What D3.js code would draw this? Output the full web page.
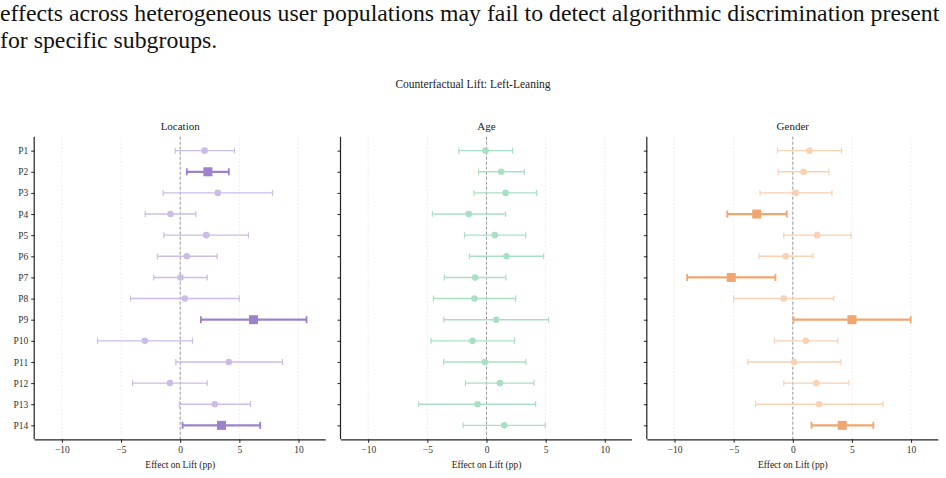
<!DOCTYPE html>
<html>
<head>
<meta charset="utf-8">
<script src="https://cdn.jsdelivr.net/npm/d3@7"></script>
<style>
  body { margin: 0; background: #fff; }
  svg { display: block; }
  svg text { font-family: "Liberation Serif", "DejaVu Serif", serif; }
</style>
</head>
<body>
<div id="container"></div>
<script>
/* DATA */
const participants = ["P1","P2","P3","P4","P5","P6","P7","P8","P9","P10","P11","P12","P13","P14"];
const panels = ["Location", "Age", "Gender"];
const xTicks = [-10, -5, 0, 5, 10];

// point estimates, lower and upper CI, per panel
const locationEst = [2.06, 2.34, 3.18, -0.82, 2.2, 0.56, 0.03, 0.39, 6.2, -2.99, 4.11, -0.87, 2.93, 3.49];
const locationLo  = [-0.42, 0.56, -1.44, -2.96, -1.38, -1.94, -2.23, -4.2, 1.75, -6.99, -0.37, -4.03, -0.08, 0.2];
const locationHi  = [4.59, 4.11, 7.8, 1.32, 5.77, 3.13, 2.28, 4.99, 10.68, 1.04, 8.65, 2.28, 5.94, 6.76];
const locationSig = [0,1,0,0,0,0,0,0,1,0,0,0,0,1];

const ageEst = [-0.08, 1.24, 1.61, -1.5, 0.71, 1.69, -0.96, -1.02, 0.82, -1.19, -0.14, 1.13, -0.76, 1.5];
const ageLo  = [-2.34, -0.68, -1.05, -4.58, -1.86, -1.44, -3.56, -4.49, -3.62, -4.69, -3.62, -1.78, -5.73, -1.98];
const ageHi  = [2.2, 3.19, 4.24, 1.61, 3.31, 4.83, 1.64, 2.46, 5.25, 2.37, 3.33, 4.01, 4.15, 4.97];
const ageSig = [0,0,0,0,0,0,0,0,0,0,0,0,0,0];

const genderEst = [1.41, 0.9, 0.25, -3.05, 2.06, -0.59, -5.2, -0.76, 5.0, 1.1, 0.11, 1.98, 2.23, 4.18];
const genderLo  = [-1.3, -1.24, -2.77, -5.54, -0.76, -2.85, -8.93, -5.0, 0.06, -1.55, -3.81, -0.76, -3.14, 1.58];
const genderHi  = [4.12, 3.05, 3.31, -0.51, 4.92, 1.69, -1.47, 3.47, 9.97, 3.81, 4.07, 4.75, 7.63, 6.81];
const genderSig = [0,0,0,1,0,0,1,0,1,0,0,0,0,1];

const seriesData = [
  { est: locationEst, lo: locationLo, hi: locationHi, sig: locationSig },
  { est: ageEst, lo: ageLo, hi: ageHi, sig: ageSig },
  { est: genderEst, lo: genderLo, hi: genderHi, sig: genderSig }
];

/* CONSTANTS */
const width = 946, height = 478;
const strong = ["#9b82cb", "#7fcfa2", "#f2a66f"];
const light  = ["#cbbde6", "#a9e0c3", "#f9d1b3"];
const panelX = [34.7, 341, 647.3], panelW = 291;
const plotTop = 136.7, plotBottom = 439.3;
const serif = "'Liberation Serif', 'DejaVu Serif', serif";

const svg = d3.select("#container").append("svg")
  .attr("width", width).attr("height", height)
  .attr("font-family", serif);

// intro text, sized to fill the line
const line1 = svg.append("text").attr("x", 0).attr("y", 21)
  .attr("font-size", 20).attr("fill", "#111")
  .style("font-family", serif)
  .text("effects across heterogeneous user populations may fail to detect algorithmic discrimination present");
const fs = 20 * 940 / line1.node().getComputedTextLength();
line1.attr("font-size", fs);
svg.append("text").attr("x", 0).attr("y", 48)
  .attr("font-size", fs).attr("fill", "#111")
  .style("font-family", serif)
  .text("for specific subgroups.");

svg.append("text").attr("x", 473).attr("y", 88)
  .attr("text-anchor", "middle").attr("font-size", 11.5).attr("fill", "#222")
  .text("Counterfactual Lift: Left-Leaning");

const yScale = d3.scalePoint()
  .domain(participants)
  .range([plotTop, plotBottom])
  .padding(0.66);

panels.forEach((name, k) => {
  const d = seriesData[k];
  const x0 = panelX[k];
  const xScale = d3.scaleLinear().domain([-12.3, 12.3]).range([x0, x0 + panelW]);
  const g = svg.append("g");

  // grid
  g.selectAll(".grid").data(xTicks).join("line")
    .attr("x1", v => xScale(v)).attr("x2", v => xScale(v))
    .attr("y1", plotTop).attr("y2", plotBottom)
    .attr("stroke", "#e4e4e4").attr("stroke-width", 0.8)
    .attr("stroke-dasharray", "1.5,2");

  // zero line
  g.append("line")
    .attr("x1", xScale(0)).attr("x2", xScale(0))
    .attr("y1", plotTop).attr("y2", plotBottom)
    .attr("stroke", "#999").attr("stroke-width", 1)
    .attr("stroke-dasharray", "3,2");

  const rows = participants.map((p, i) => ({ p, est: d.est[i], lo: d.lo[i], hi: d.hi[i], sig: d.sig[i] }));

  const row = g.selectAll(".row").data(rows).join("g");
  row.append("line")
    .attr("x1", r => xScale(r.lo)).attr("x2", r => xScale(r.hi))
    .attr("y1", r => yScale(r.p)).attr("y2", r => yScale(r.p))
    .attr("stroke", r => r.sig ? strong[k] : light[k])
    .attr("stroke-width", r => r.sig ? 2.2 : 1.4);
  ["lo", "hi"].forEach(end => {
    row.append("line")
      .attr("x1", r => xScale(r[end])).attr("x2", r => xScale(r[end]))
      .attr("y1", r => yScale(r.p) - (r.sig ? 3.5 : 3))
      .attr("y2", r => yScale(r.p) + (r.sig ? 3.5 : 3))
      .attr("stroke", r => r.sig ? strong[k] : light[k])
      .attr("stroke-width", r => r.sig ? 1.8 : 1.2);
  });
  row.filter(r => !r.sig).append("circle")
    .attr("cx", r => xScale(r.est)).attr("cy", r => yScale(r.p))
    .attr("r", 3.3).attr("fill", light[k]);
  row.filter(r => r.sig).append("rect")
    .attr("x", r => xScale(r.est) - 4.5).attr("y", r => yScale(r.p) - 4.5)
    .attr("width", 9).attr("height", 9).attr("fill", strong[k]);

  // axes
  const xAxis = g.append("g")
    .attr("transform", `translate(0,${plotBottom})`)
    .call(d3.axisBottom(xScale).tickValues(xTicks).tickSize(3.5).tickPadding(3)
      .tickFormat(v => v < 0 ? "\u2212" + Math.abs(v) : v))
    .attr("font-family", serif).attr("font-size", 9.5);
  xAxis.select(".domain").attr("d", `M${x0},0.5H${x0 + panelW}`).attr("stroke", "#222").attr("stroke-width", 1.2);
  xAxis.selectAll("text").attr("fill", "#333").style("font-family", serif);

  const yAxis = g.append("g")
    .attr("transform", `translate(${x0},0)`)
    .call(d3.axisLeft(yScale).tickSize(3.5).tickPadding(3))
    .attr("font-family", serif).attr("font-size", 9.5);
  yAxis.select(".domain").attr("d", `M-0.5,${plotTop}V${plotBottom}`).attr("stroke", "#222").attr("stroke-width", 1.2);
  yAxis.selectAll("text").attr("fill", "#333").style("font-family", serif)
    .style("display", k === 0 ? null : "none");
  g.selectAll(".tick line").attr("stroke", "#222");

  // titles
  g.append("text").attr("x", x0 + panelW / 2).attr("y", 130)
    .attr("text-anchor", "middle").attr("font-size", 11).attr("fill", "#222")
    .text(name);
  g.append("text").attr("x", xScale(0)).attr("y", 468)
    .attr("text-anchor", "middle").attr("font-size", 9.5).attr("fill", "#222")
    .text("Effect on Lift (pp)");
});
</script>
</body>
</html>
